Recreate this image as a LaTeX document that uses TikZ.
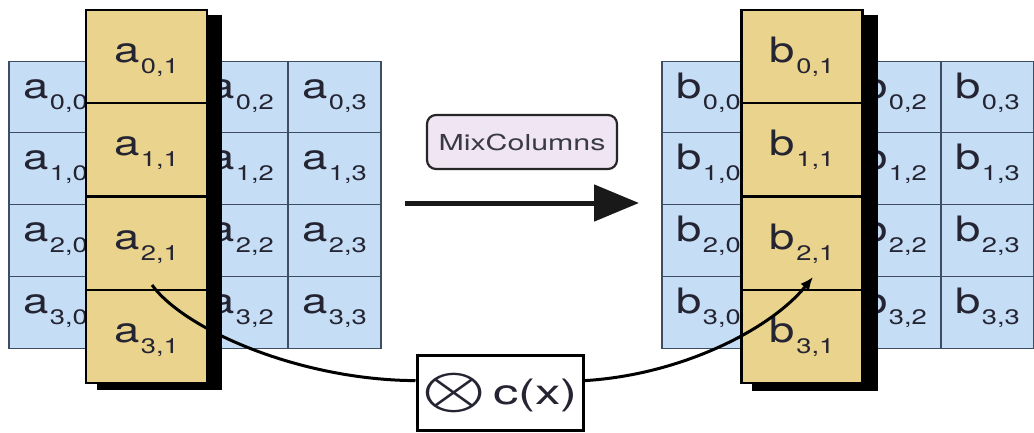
\documentclass[tikz,border=0pt]{standalone}
\usepackage{fontspec}
\usepackage{graphicx}
\setmainfont{TeX Gyre Heros}
\newfontfamily\symfnt{latinmodern-math.otf}
\usetikzlibrary{arrows.meta}
\definecolor{cellblue}{RGB}{197,221,245}
\definecolor{cellyel}{RGB}{234,211,140}
\definecolor{gridc}{RGB}{62,78,98}
\definecolor{txtc}{RGB}{36,36,50}
\definecolor{pinkc}{RGB}{240,229,242}
\newcommand\ct[2]{\scalebox{1.3}[1]{\fontsize{35}{35}\selectfont #1\hspace{1pt}\raisebox{-11pt}{\fontsize{21}{21}\selectfont #2}}}
\tikzset{
  bcell/.style={draw=gridc, line width=1.2pt, fill=cellblue, minimum width=93pt, minimum height=71.75pt, inner sep=0pt, text=txtc, text height=17pt, text depth=15pt},
  ycell/.style={draw=black, line width=2.2pt, fill=cellyel, minimum width=121pt, minimum height=93.25pt, inner sep=0pt, text=txtc, text height=21pt, text depth=9pt},
  shadowbox/.style={fill=black},
  opbox/.style={draw=black, line width=3pt, fill=white, minimum width=166pt, minimum height=75pt, inner sep=0pt, text=txtc},
  labbox/.style={draw=black!85, line width=2.2pt, rounded corners=9pt, fill=pinkc, minimum width=190pt, minimum height=54pt, inner sep=0pt, text=txtc!90},
  mainarrow/.style={line width=5pt, black!90, -{Triangle[length=45pt,width=36pt]}},
  curvearrow/.style={line width=3pt, black, -{Latex[length=13pt,width=11pt]}}
}
\begin{document}
\begin{tikzpicture}[x=1pt,y=-1pt]
\useasboundingbox[fill=white] (0,0) rectangle (1034,432);
% left blue grid
\foreach \r/\y in {0/97,1/168.75,2/240.5,3/312.25}{
  \foreach \c/\x in {0/55.5,1/148.5,2/241.5,3/334.5}{
    \node[bcell] (a\r\c) at (\x,\y) {\ct{a}{\r,\c}};
  }
}
% right blue grid
\foreach \r/\y in {0/97,1/168.75,2/240.5,3/312.25}{
  \foreach \c/\x in {0/708.5,1/801.5,2/894.5,3/987.5}{
    \node[bcell] (b\r\c) at (\x,\y) {\ct{b}{\r,\c}};
  }
}
% shadows
\fill[shadowbox] (97,15) rectangle (222,390);
\fill[shadowbox] (752,15) rectangle (878,391);
% yellow columns
\foreach \r/\y in {0/56.6,1/149.9,2/243.1,3/336.4}{
  \node[ycell] (ya\r) at (146.5,\y) {\ct{a}{\r,1}};
  \node[ycell] (yb\r) at (802,\y) {\ct{b}{\r,1}};
}
% MixColumns label and arrow
\node[labbox] (mix) at (522,142) {\scalebox{1.38}[1]{\fontsize{22}{22}\selectfont MixColumns}};
\coordinate (arrs) at (405,203);
\coordinate (arre) at (639,203);
\draw[mainarrow] (arrs) -- (arre);
% c(x) box
\node[opbox] (cx) at (500,392.5) {\raisebox{-3pt}{\scalebox{1.4}[1]{\symfnt\fontsize{58}{58}\selectfont ⊗}}\hspace{8pt}\scalebox{1.45}[1]{\fontsize{35}{35}\selectfont c(x)}};
% curves
\coordinate (src) at (152,285);
\coordinate (dst) at (813,277);
\draw[line width=3pt] (src) .. controls (185,330) and (300,380) .. (cx.172);
\draw[curvearrow] (cx.8) .. controls (680,375) and (770,330) .. (dst);
\end{tikzpicture}
\end{document}
